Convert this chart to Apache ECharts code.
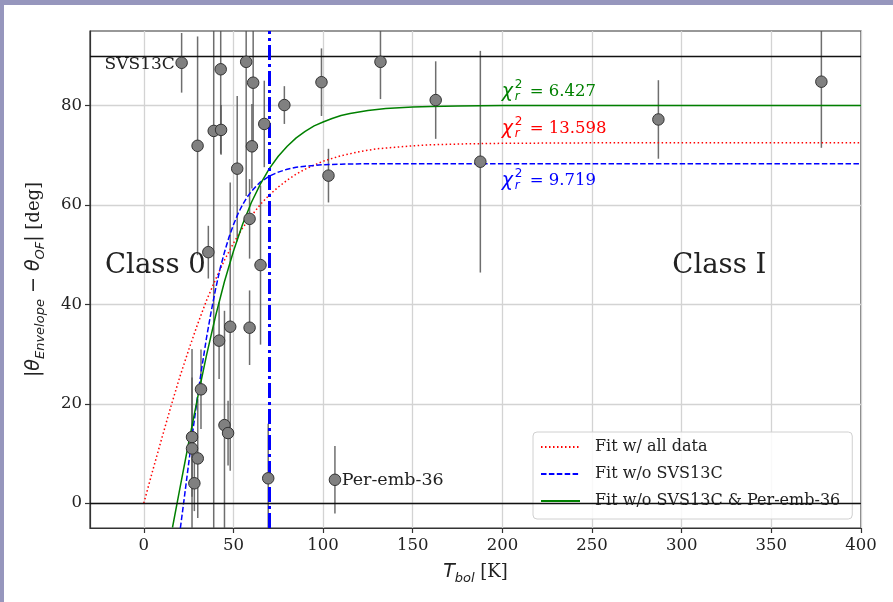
<!DOCTYPE html>
<html><head><meta charset="utf-8">
<script src="https://cdn.jsdelivr.net/npm/echarts@6/dist/echarts.min.js"></script>
<style>html,body{margin:0;padding:0;background:#fff;overflow:hidden}#c{width:893px;height:602px}</style>
</head><body><div id="c"></div>
<script>
// ---------- data ----------
const tbol = [21.1, 30.0, 39.0, 43.1, 42.9, 57.1, 61.0, 60.3, 52.1, 67.2, 78.4,
              36.0, 48.2, 42.0, 59.0, 65.1, 59.0, 31.9, 26.9, 26.9, 28.2, 30.1,
              45.0, 47.0, 69.4, 106.6, 99.1, 103.0, 132.0, 162.8, 187.7, 287.0, 377.9];
const theta = [88.6, 71.9, 74.9, 75.1, 87.3, 88.8, 84.6, 71.8, 67.3, 76.3, 80.1,
               50.5, 35.5, 32.7, 35.3, 47.9, 57.2, 22.9, 13.3, 11.0, 4.0, 9.0,
               15.7, 14.1, 5.0, 4.7, 84.7, 65.9, 88.8, 81.1, 68.7, 77.2, 84.8];
const thetaErr = [6, 22, 82, 5, 17, 27, 14, 8.5, 14.6, 8.7, 3.8,
                  5.3, 29, 7.7, 7.5, 16, 8, 8, 12, 20, 5.6, 12,
                  23, 6.5, 11, 6.8, 6.8, 5.4, 7.5, 7.8, 22.3, 7.9, 13.3];

// fit curves
const fitAllX = [0, 5, 10, 15, 20, 25, 30, 35, 40, 45, 50, 55, 60, 65, 70, 75, 80, 85, 90, 95, 100, 110, 120, 130, 140, 150, 160, 170, 180, 200, 250, 300, 400];
const fitAllY = [0, 6.6, 13.0, 19.3, 25.3, 30.8, 36.0, 40.8, 45.0, 48.9, 52.3, 55.3, 57.8, 60.1, 62.0, 63.6, 65.0, 66.2, 67.2, 68.0, 68.8, 69.9, 70.7, 71.3, 71.6, 71.9, 72.1, 72.2, 72.3, 72.4, 72.5, 72.5, 72.5];
const fitNoSvsX = [20.4, 22, 25, 27.5, 30, 32.5, 35, 37.5, 40, 42.5, 45, 47.5, 50, 52.5, 55, 57.5, 60, 62.5, 65, 70, 75, 80, 85, 90, 100, 110, 125, 150, 400];
const fitNoSvsY = [-5.0, -0.6, 7.9, 14.9, 21.5, 27.6, 33.3, 38.4, 43.0, 47.1, 50.5, 53.5, 56.0, 58.2, 60.0, 61.5, 62.7, 63.7, 64.6, 65.8, 66.6, 67.2, 67.6, 67.8, 68.1, 68.2, 68.3, 68.3, 68.3];
const fitNoBothX = [16, 20, 25, 30, 35, 40, 45, 50, 55, 60, 65, 70, 75, 80, 85, 90, 95, 100, 105, 110, 115, 120, 125, 135, 150, 160, 175, 200, 400];
const fitNoBothY = [-4.9, 2.7, 12.1, 21.2, 29.8, 37.6, 44.6, 50.7, 56.0, 60.5, 64.2, 67.3, 69.8, 71.8, 73.5, 74.8, 75.9, 76.7, 77.4, 78.0, 78.4, 78.7, 79.0, 79.4, 79.7, 79.8, 79.9, 80.0, 80.0];

const fitNames = ['Fit w/ all data', 'Fit w/o SVS13C', 'Fit w/o SVS13C & Per-emb-36'];
const chiValues = ['13.598', '9.719', '6.427'];
const xTicks = [0, 50, 100, 150, 200, 250, 300, 350, 400];
const yTicks = [0, 20, 40, 60, 80];
const hLines = [0, 90];
const classSplit = 70;
const annotations = ['SVS13C', 'Per-emb-36', 'Class 0', 'Class I'];

// ---------- chart ----------
const SERIF = '"DejaVu Serif", serif';
const SANS = '"DejaVu Sans", sans-serif';
const chart = echarts.init(document.getElementById('c'), null, {renderer: 'canvas'});

const zip = (xs, ys) => xs.map((x, i) => [x, ys[i]]);

const option = {
  animation: false,
  backgroundColor: '#fff',
  grid: {left: 90, top: 31, right: 32, bottom: 74, show: true, borderColor: '#333', borderWidth: 1.2, backgroundColor: 'transparent'},
  xAxis: {
    type: 'value', min: -30, max: 400,
    name: '{i|T}{s|bol}{r| [K]}', nameLocation: 'middle', nameGap: 31,
    nameTextStyle: {
      rich: {
        i: {fontFamily: SANS, fontStyle: 'italic', fontSize: 19, color: '#222', lineHeight: 26},
        s: {fontFamily: SANS, fontStyle: 'italic', fontSize: 13, color: '#222', lineHeight: 13, verticalAlign: 'bottom'},
        r: {fontFamily: SERIF, fontSize: 18, color: '#222', lineHeight: 26}
      }
    },
    axisLine: {show: true, onZero: false, lineStyle: {color: '#333', width: 1.2}},
    axisTick: {show: true, length: 5, customValues: xTicks, lineStyle: {color: '#333', width: 1.2}},
    axisLabel: {customValues: xTicks, margin: 9, fontFamily: SERIF, fontSize: 16.5, color: '#222'},
    splitLine: {show: true, lineStyle: {color: '#d3d3d3', width: 1.3}}
  },
  yAxis: {
    type: 'value', min: -5, max: 95,
    name: '{i||θ}{s|Envelope}{i| − θ}{s|OF}{i||}{r| [deg]}', nameLocation: 'middle', nameGap: 43, nameRotate: 90,
    nameTextStyle: {
      rich: {
        i: {fontFamily: SANS, fontStyle: 'italic', fontSize: 19, color: '#222', lineHeight: 26},
        s: {fontFamily: SANS, fontStyle: 'italic', fontSize: 13, color: '#222', lineHeight: 13, verticalAlign: 'bottom'},
        r: {fontFamily: SERIF, fontSize: 18, color: '#222', lineHeight: 26}
      }
    },
    axisLine: {show: true, onZero: false, lineStyle: {color: '#333', width: 1.2}},
    axisTick: {show: true, length: 5, customValues: yTicks, lineStyle: {color: '#333', width: 1.2}},
    axisLabel: {customValues: yTicks, margin: 8, fontFamily: SERIF, fontSize: 16.5, color: '#222'},
    splitLine: {show: true, lineStyle: {color: '#d3d3d3', width: 1.3}}
  },
  legend: {
    data: fitNames.map(n => ({name: n, itemStyle: {opacity: 0, borderWidth: 0}})),
    orient: 'vertical', left: 533, top: 432,
    padding: [6, 12, 9, 7],
    itemWidth: 39, itemHeight: 12, itemGap: 9,
    itemStyle: {opacity: 0, borderWidth: 0},
    backgroundColor: 'rgba(255,255,255,0.85)', borderColor: '#d0d0d0', borderWidth: 1, borderRadius: 4,
    textStyle: {fontFamily: SERIF, fontSize: 16, color: '#222', lineHeight: 18, padding: [0, 0, 0, 10]}
  },
  series: [
    {
      name: 'errorbars', type: 'custom', clip: true, z: 3, silent: true,
      data: tbol.map((x, i) => [x, theta[i] - thetaErr[i], theta[i] + thetaErr[i]]),
      encode: {x: 0, y: [1, 2]},
      renderItem: function (params, api) {
        const a = api.coord([api.value(0), api.value(1)]);
        const b = api.coord([api.value(0), api.value(2)]);
        return {type: 'line', shape: {x1: a[0], y1: a[1], x2: b[0], y2: b[1]},
                style: {stroke: '#555', lineWidth: 1.5, opacity: 0.85}};
      },
      markLine: {
        silent: true, symbol: 'none', label: {show: false}, animation: false,
        data: [
          ...hLines.map(v => ({yAxis: v, lineStyle: {color: '#111', width: 1.4, type: 'solid'}})),
          {xAxis: classSplit, lineStyle: {color: '#0000ff', width: 3, type: [15, 4, 3, 4]}}
        ]
      }
    },
    {name: fitNames[0], type: 'line', z: 4, data: zip(fitAllX, fitAllY), showSymbol: false, symbol: 'none', clip: true,
     lineStyle: {color: '#ff0000', width: 1.5, type: [1.5, 2.5]}, itemStyle: {color: '#ff0000'}},
    {name: fitNames[1], type: 'line', z: 4, data: zip(fitNoSvsX, fitNoSvsY), showSymbol: false, symbol: 'none', clip: true,
     lineStyle: {color: '#0000ff', width: 1.5, type: [5.5, 2.4]}, itemStyle: {color: '#0000ff'}},
    {name: fitNames[2], type: 'line', z: 4, data: zip(fitNoBothX, fitNoBothY), showSymbol: false, symbol: 'none', clip: true,
     lineStyle: {color: '#008000', width: 1.5, type: 'solid'}, itemStyle: {color: '#008000'}},
    {
      name: 'points', type: 'scatter', z: 6, silent: true,
      data: zip(tbol, theta), symbol: 'circle', symbolSize: 11.5,
      itemStyle: {color: '#808080', borderColor: '#333', borderWidth: 1, opacity: 1}
    }
  ]
};
chart.setOption(option);

// ---------- text annotations anchored at data coordinates ----------
const P = (x, y) => chart.convertToPixel({gridIndex: 0}, [x, y]);
const texts = [];
function addText(x, y, text, font, size, color, align, italic) {
  texts.push({
    type: 'text', x: x, y: y, z: 50,
    style: {text: text, fontFamily: font, fontStyle: italic ? 'italic' : 'normal', fontSize: size, fill: color, align: align, verticalAlign: 'middle'}
  });
}
const annAnchor = [[17.3, 88.3, 'right', 17], [110.4, 4.6, 'left', 17.5], [-21.6, 47.8, 'left', 27.5], [294.8, 47.8, 'left', 27.5]];
annotations.forEach((t, i) => {
  const a = annAnchor[i];
  const p = P(a[0], a[1]);
  addText(p[0], p[1], t, SERIF, a[3], '#222', a[2], false);
});
const chiAnchor = [[199.6, 75.3, '#ff0000'], [199.6, 64.8, '#0000ff'], [199.6, 82.7, '#008000']];
chiValues.forEach((v, i) => {
  const a = chiAnchor[i];
  const p = P(a[0], a[1]);
  addText(p[0], p[1], 'χ', SANS, 19, a[2], 'left', true);
  addText(p[0] + 13, p[1] - 7, '2', SANS, 12, a[2], 'left', false);
  addText(p[0] + 13, p[1] + 5, 'r', SANS, 12, a[2], 'left', true);
  addText(p[0] + 28, p[1], '= ' + v, SERIF, 16.5, a[2], 'left', false);
});
// page border strips
texts.push({type: 'rect', shape: {x: 0, y: 0, width: 893, height: 5}, style: {fill: '#9696bd'}, z: 60});
texts.push({type: 'rect', shape: {x: 0, y: 0, width: 4, height: 602}, style: {fill: '#9696bd'}, z: 60});
chart.setOption({graphic: {elements: texts}});
</script>
</body></html>
